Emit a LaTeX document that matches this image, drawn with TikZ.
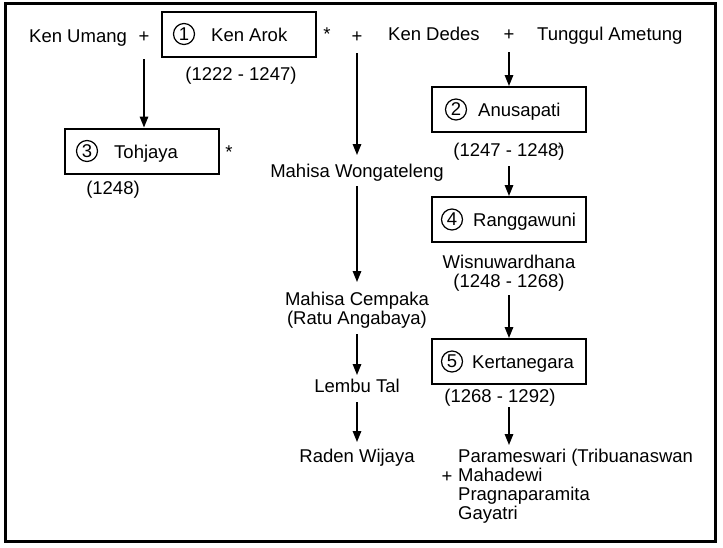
\documentclass[tikz,border=0pt]{standalone}
\usepackage{fontspec}
\setmainfont{Liberation Sans}
\usetikzlibrary{arrows.meta}
\begin{document}
\begin{tikzpicture}[x=1pt,y=-1pt,
  every node/.style={font=\fontsize{18.5}{19}\selectfont},
  txt/.style={inner sep=0pt,anchor=base},
  txtw/.style={inner sep=0pt,anchor=base west},
  kingbox/.style={draw,line width=2pt,minimum width=154pt,minimum height=45pt,inner sep=0pt},
  num/.style={draw,circle,line width=1.2pt,minimum size=21pt,inner sep=0pt},
  arr/.style={line width=1.5pt,-{Triangle[length=11pt,width=8.5pt]}}]
\useasboundingbox (0,0) rectangle (723,547);
\draw[line width=3pt] (5,3) rectangle (715,541);

% top row
\node[txtw] (umang) at (29,42) {Ken Umang};
\node[txt] (plus1) at (144,42) {+};
\node[kingbox] (arok) at (239,34) {};
\node[num] (arokc) at (184,34) {1};
\node[txtw] (arokn) at (211,41) {Ken Arok};
\node[txt] (arokd) at (241,80) {(1222 - 1247)};
\node[txt] (ast1) at (327,40) {*};
\node[txt] (plus2) at (357,42) {+};
\node[txtw] (dedes) at (388,40) {Ken Dedes};
\node[txt] (plus3) at (509,40) {+};
\node[txtw] (tunggul) at (537,40) {Tunggul Ametung};

% left column
\node[kingbox] (toh) at (141.5,151) {};
\node[num] (tohc) at (87,151) {3};
\node[txtw] (tohn) at (114,158) {Tohjaya};
\node[txt] (ast2) at (229,158) {*};
\node[txt] (tohd) at (113,194) {(1248)};

% middle column
\node[txt] (mw) at (357,177) {Mahisa Wongateleng};
\node[txt] (mc1) at (357,305) {Mahisa Cempaka};
\node[txt] (mc2) at (357,324) {(Ratu Angabaya)};
\node[txt] (lembu) at (357,392) {Lembu Tal};
\node[txt] (raden) at (357,462) {Raden Wijaya};

% right column
\node[kingbox] (anu) at (509,109.5) {};
\node[num] (anuc) at (456,109.5) {2};
\node[txtw] (anun) at (478,116) {Anusapati};
\node[txt] (anud) at (509,156) {(1247 - 1248\rlap{\kern-1pt\raisebox{4pt}{\fontsize{10}{10}\selectfont *}})};
\node[kingbox] (rang) at (509,219.5) {};
\node[num] (rangc) at (452,219.5) {4};
\node[txtw] (rangn) at (473,226) {Ranggawuni};
\node[txt] (wisn1) at (509,268) {Wisnuwardhana};
\node[txt] (wisn2) at (509,287) {(1248 - 1268)};
\node[kingbox] (kert) at (509,361.5) {};
\node[num] (kertc) at (452,361.5) {5};
\node[txtw] (kertn) at (472,368) {Kertanegara};
\node[txt] (kertd) at (500,402) {(1268 - 1292)};
\coordinate (kids) at (509,445);
\node[txtw] (k1) at (458,462) {Parameswari (Tribuanaswan};
\node[txt] (plus4) at (447,482) {+};
\node[txtw] (k2) at (458,481) {Mahadewi};
\node[txtw] (k3) at (458,500) {Pragnaparamita};
\node[txtw] (k4) at (458,519) {Gayatri};

% connectors
\draw[arr] ([yshift=-17pt]plus1.base) -- (plus1 |- toh.north);
\draw[arr] ([yshift=-11pt]plus2.base) -- ([yshift=22pt]mw.base);
\draw[arr] ([yshift=-9pt]mw.base) -- ([yshift=23pt]mc1.base);
\draw[arr] ([yshift=-10pt]mc2.base) -- ([yshift=17pt]lembu.base);
\draw[arr] ([yshift=-10pt]lembu.base) -- ([yshift=20pt]raden.base);
\draw[arr] ([yshift=-12pt]plus3.base) -- (anu.north);
\draw[arr] ([yshift=-10pt]anud.base) -- (rang.north);
\draw[arr] ([yshift=-8pt]wisn2.base) -- (kert.north);
\draw[arr] ([yshift=-22pt]kert.south) -- (kids);
\end{tikzpicture}
\end{document}
